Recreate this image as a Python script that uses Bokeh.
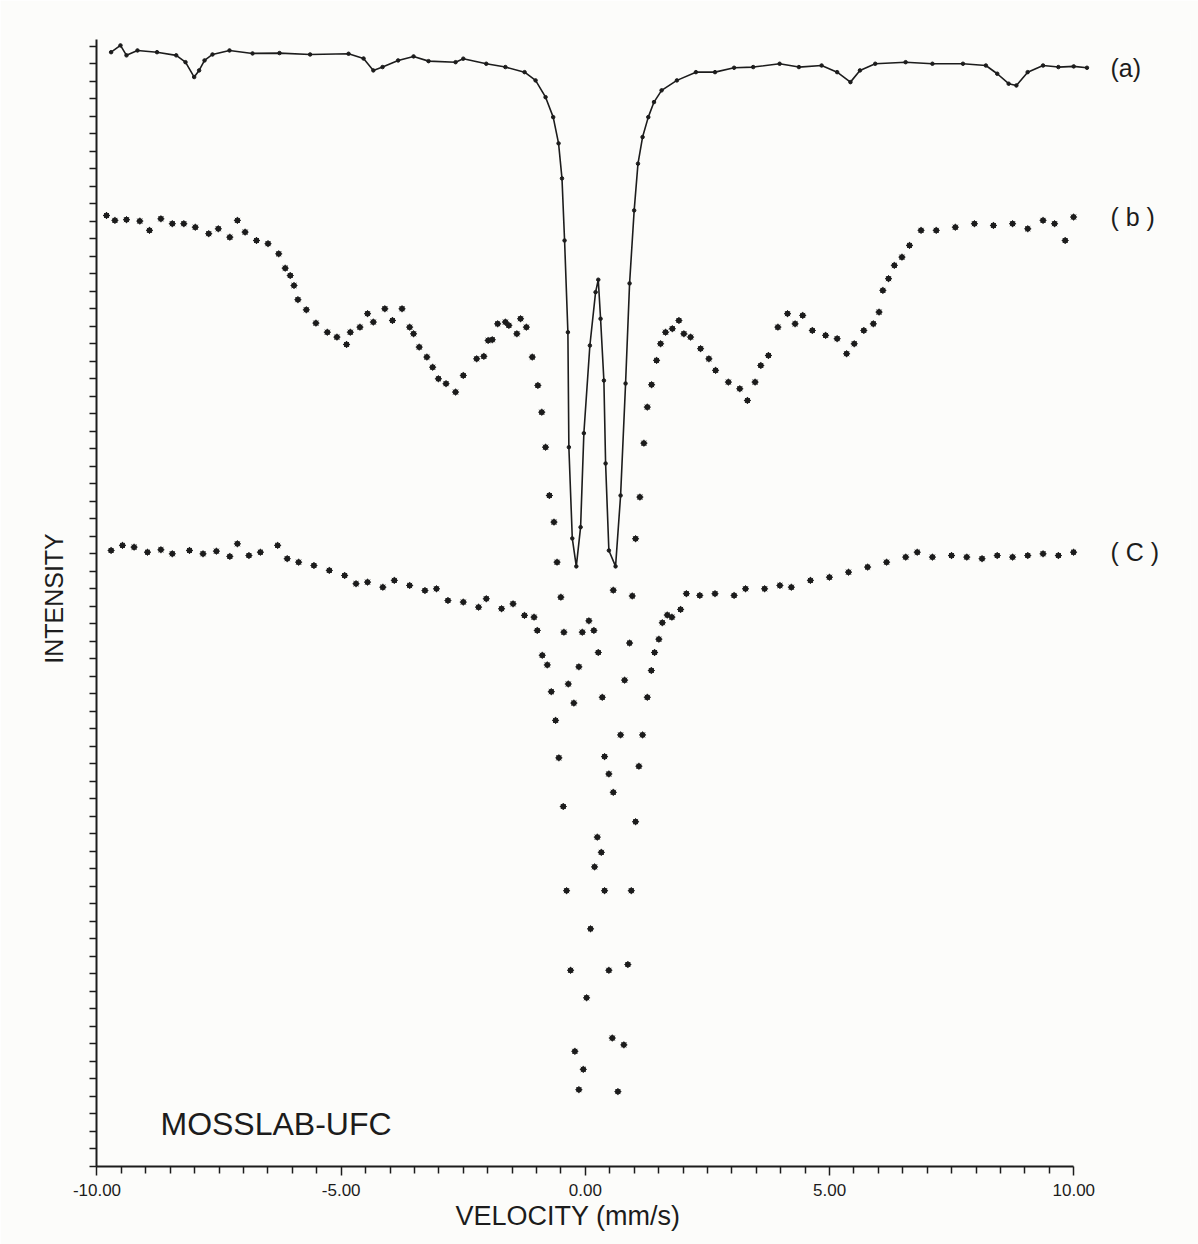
from bokeh.plotting import figure
from bokeh.models import Range1d, FixedTicker, Label, ColumnDataSource, Title
from bokeh.core.properties import value
from bokeh.embed import file_html
from bokeh.resources import INLINE

# ---------------- data (velocity in mm/s, intensity in arbitrary tick units) ----------------
a_vel = [-9.711, -9.519, -9.396, -9.171, -8.771, -8.378, -8.188, -8.010, -7.909, -7.798,
         -7.635, -7.287, -6.815, -6.263, -5.636, -4.849, -4.542, -4.342, -4.153, -3.834,
         -3.518, -3.211, -2.658, -2.500, -2.029, -1.638, -1.245, -1.020, -0.815, -0.659,
         -0.549, -0.479, -0.426, -0.358, -0.338, -0.268, -0.186, -0.098, -0.031, 0.092,
         0.209, 0.264, 0.311, 0.379, 0.414, 0.481, 0.618, 0.721, 0.823, 0.905,
         0.999, 1.077, 1.171, 1.288, 1.405, 1.561, 1.874, 2.263, 2.654, 3.045,
         3.436, 3.977, 4.372, 4.837, 5.155, 5.427, 5.622, 5.935, 6.557, 7.106,
         7.731, 8.200, 8.433, 8.667, 8.825, 9.056, 9.371, 9.685, 9.998, 10.270]
a_int = [63.67, 64.06, 63.49, 63.77, 63.67, 63.49, 63.10, 62.25, 62.63, 63.20,
         63.54, 63.77, 63.60, 63.62, 63.54, 63.58, 63.31, 62.63, 62.82, 63.20,
         63.43, 63.16, 63.10, 63.30, 63.01, 62.82, 62.53, 62.06, 61.10, 59.96,
         58.46, 56.46, 52.91, 47.67, 41.10, 35.89, 34.29, 36.53, 41.90, 46.91,
         49.96, 50.67, 48.44, 44.91, 40.17, 35.20, 34.29, 38.34, 44.74, 50.46,
         54.63, 57.30, 58.82, 59.96, 60.82, 61.49, 62.06, 62.53, 62.53, 62.78,
         62.82, 63.01, 62.82, 62.91, 62.53, 61.96, 62.63, 63.01, 63.10, 63.01,
         63.01, 62.91, 62.44, 61.87, 61.77, 62.53, 62.91, 62.82, 62.86, 62.78]

b_vel = [-9.805, -9.633, -9.396, -9.123, -8.925, -8.691, -8.458, -8.222, -7.987, -7.712,
         -7.516, -7.280, -7.125, -6.967, -6.734, -6.498, -6.279, -6.146, -6.043, -5.966,
         -5.886, -5.714, -5.517, -5.284, -5.087, -4.890, -4.813, -4.616, -4.460, -4.342,
         -4.106, -3.950, -3.754, -3.598, -3.518, -3.402, -3.246, -3.127, -3.010, -2.853,
         -2.658, -2.500, -2.226, -2.079, -1.991, -1.907, -1.796, -1.638, -1.567, -1.403,
         -1.327, -1.208, -1.087, -0.973, -0.893, -0.815, -0.737, -0.643, -0.580, -0.502,
         -0.440, -0.350, -0.236, -0.133, -0.063, 0.072, 0.174, 0.264, 0.346, 0.393,
         0.481, 0.571, 0.571, 0.721, 0.803, 0.905, 0.960, 1.028, 1.116, 1.198,
         1.268, 1.356, 1.458, 1.540, 1.642, 1.780, 1.915, 2.017, 2.154, 2.359,
         2.529, 2.666, 2.928, 3.162, 3.318, 3.475, 3.592, 3.748, 3.942, 4.139,
         4.294, 4.450, 4.647, 4.919, 5.155, 5.349, 5.505, 5.701, 5.896, 6.013,
         6.091, 6.207, 6.326, 6.482, 6.637, 6.873, 7.184, 7.575, 7.966, 8.355,
         8.747, 9.058, 9.371, 9.607, 9.824, 9.996]
b_int = [54.34, 54.06, 54.10, 54.02, 53.49, 54.15, 53.87, 53.87, 53.67, 53.30,
         53.58, 53.10, 54.06, 53.39, 52.91, 52.73, 52.15, 51.33, 50.91, 50.34,
         49.53, 48.95, 48.19, 47.67, 47.39, 46.97, 47.67, 47.96, 48.73, 48.25,
         49.01, 48.34, 49.01, 47.96, 47.58, 46.82, 46.25, 45.67, 45.01, 44.73,
         44.25, 45.20, 46.15, 46.29, 47.20, 47.24, 48.15, 48.25, 48.06, 47.58,
         48.44, 47.96, 46.25, 44.63, 43.10, 41.10, 38.34, 36.82, 34.53, 32.53,
         30.53, 27.57, 26.48, 28.55, 30.53, 31.18, 30.63, 29.37, 26.81, 23.42,
         22.43, 21.38, 32.93, 24.66, 27.79, 29.91, 32.60, 35.87, 38.25, 41.33,
         43.39, 44.67, 46.06, 47.01, 47.67, 47.87, 48.34, 47.58, 47.39, 46.73,
         46.15, 45.49, 44.82, 44.44, 43.77, 44.82, 45.77, 46.34, 47.96, 48.73,
         48.15, 48.63, 47.77, 47.49, 47.30, 46.44, 47.01, 47.77, 48.15, 48.82,
         50.06, 50.73, 51.49, 51.96, 52.63, 53.49, 53.49, 53.67, 53.87, 53.77,
         53.87, 53.58, 54.06, 53.87, 52.91, 54.25]

c_vel = [-9.711, -9.478, -9.240, -8.966, -8.691, -8.458, -8.106, -7.829, -7.555, -7.280,
         -7.125, -6.889, -6.654, -6.301, -6.105, -5.871, -5.558, -5.243, -4.929, -4.696,
         -4.460, -4.147, -3.912, -3.598, -3.285, -3.049, -2.814, -2.500, -2.187, -2.029,
         -1.716, -1.481, -1.247, -1.051, -0.985, -0.883, -0.780, -0.698, -0.610, -0.543,
         -0.453, -0.385, -0.303, -0.215, -0.133, -0.043, 0.025, 0.106, 0.188, 0.244,
         0.326, 0.393, 0.481, 0.551, 0.666, 0.788, 0.870, 0.940, 1.028, 1.096,
         1.171, 1.268, 1.350, 1.417, 1.505, 1.575, 1.677, 1.771, 1.950, 2.068,
         2.343, 2.654, 3.045, 3.279, 3.670, 3.983, 4.217, 4.608, 4.997, 5.388,
         5.779, 6.168, 6.559, 6.795, 7.106, 7.497, 7.809, 8.122, 8.433, 8.747,
         9.058, 9.371, 9.685, 9.996]
c_int = [35.20, 35.49, 35.39, 35.10, 35.24, 35.01, 35.20, 35.01, 35.16, 34.86,
         35.58, 34.91, 35.10, 35.49, 34.73, 34.53, 34.34, 34.06, 33.77, 33.30,
         33.39, 33.10, 33.49, 33.20, 32.91, 33.01, 32.34, 32.25, 31.96, 32.44,
         31.87, 32.15, 31.49, 31.39, 30.63, 29.21, 28.66, 27.13, 25.49, 23.35,
         20.57, 15.76, 11.21, 6.58, 4.39, 5.55, 9.64, 13.58, 17.12, 18.82,
         17.95, 15.76, 11.21, 7.34, 4.28, 6.95, 11.54, 15.76, 19.70, 22.87,
         24.66, 26.81, 28.34, 29.37, 30.13, 31.07, 31.51, 31.39, 31.83, 32.73,
         32.63, 32.73, 32.63, 33.01, 33.01, 33.20, 33.10, 33.49, 33.67, 33.96,
         34.25, 34.53, 34.82, 35.10, 34.82, 34.91, 34.82, 34.73, 34.91, 34.82,
         34.91, 35.01, 34.91, 35.10]

series_labels = ["(a)", "( b )", "( C )"]
x_tick_values = [-10, -5, 0, 5, 10]
x_tick_labels = ["-10.00", "-5.00", "0.00", "5.00", "10.00"]
x_minor_values = [v / 2 for v in range(-19, 20) if v % 10 != 0]
y_minor_values = list(range(0, 65))

INK = "#1c1c1c"
PAPER = "#fcfcfa"
FONT = "Liberation Sans"

p = figure(width=1198, height=1244, output_backend="svg", toolbar_location=None,
           x_range=Range1d(-10.01, 12.39), y_range=Range1d(0, 64.91),
           min_border_left=96, min_border_right=8, min_border_top=30, min_border_bottom=78)
p.grid.visible = False
p.outline_line_color = None
p.background_fill_color = PAPER
p.border_fill_color = PAPER

# x axis
xa = p.xaxis[0]
xa.ticker = FixedTicker(ticks=x_tick_values, minor_ticks=x_minor_values)
xa.major_label_overrides = {t: l for t, l in zip(x_tick_values, x_tick_labels)}
xa.bounds = (-10, 10)
xa.axis_line_width = 2
xa.axis_line_color = INK
xa.major_tick_line_color = INK
xa.minor_tick_line_color = INK
xa.major_tick_line_width = 1.5
xa.minor_tick_line_width = 1.5
xa.major_tick_in = 0
xa.major_tick_out = 9
xa.minor_tick_in = 0
xa.minor_tick_out = 7
xa.major_label_standoff = 8
xa.major_label_text_font = FONT
xa.major_label_text_font_size = "17px"
xa.major_label_text_color = INK

# x-axis title below the axis, positioned under the velocity scale
p.add_layout(Title(text="VELOCITY (mm/s)", text_font=FONT, text_font_size="27px",
                   text_font_style="normal", text_color=INK, align="left",
                   offset=359, standoff=0), "below")

# y axis (ticks only, no numbers)
ya = p.yaxis[0]
ya.ticker = FixedTicker(ticks=[], minor_ticks=y_minor_values)
ya.bounds = (0, 64.4)
ya.axis_line_width = 2
ya.axis_line_color = INK
ya.minor_tick_line_color = INK
ya.minor_tick_line_width = 1.5
ya.minor_tick_in = 0
ya.minor_tick_out = 7
ya.axis_label = "INTENSITY"
ya.axis_label_text_font = FONT
ya.axis_label_text_font_size = "25px"
ya.axis_label_text_font_style = "normal"
ya.axis_label_text_color = INK
ya.axis_label_standoff = 22

# series (a): connected trace with points
p.line(a_vel, a_int, line_color=INK, line_width=1.6)
p.scatter(a_vel, a_int, size=3.5, marker="circle", fill_color=INK, line_color=INK)

# series (b) and (c): points
for xs, ys in ((b_vel, b_int), (c_vel, c_int)):
    p.scatter(xs, ys, size=5, marker="circle", fill_color=INK, line_color=INK)
    p.scatter(xs, ys, size=7, marker="asterisk", line_color=INK, line_width=1)

# series labels placed just right of each trace's last point
lab_src = ColumnDataSource(dict(
    x=[10.75] * 3,
    y=[a_int[-1], b_int[-1], c_int[-1]],
    t=series_labels))
p.text(x="x", y="y", text="t", source=lab_src, text_font=value(FONT),
       text_font_size="25px", text_color=INK, text_baseline="middle", text_align="left")

p.add_layout(Label(x=-8.70, y=2.4, text="MOSSLAB-UFC", text_font=FONT,
                   text_font_size="32px", text_color=INK, text_baseline="alphabetic"))

open("out.html", "w").write(file_html(p, INLINE))
